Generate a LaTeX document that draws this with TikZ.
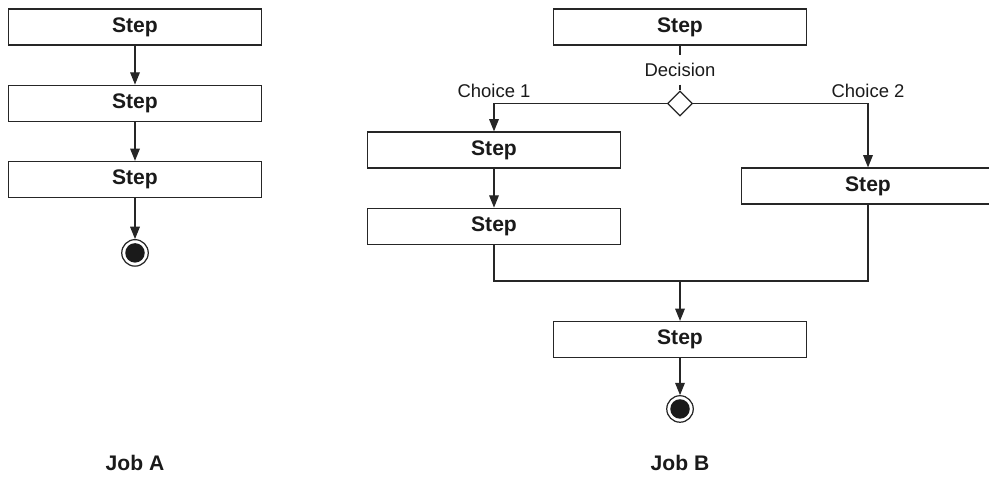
\documentclass[tikz,border=0pt]{standalone}
\usepackage{fontspec}
\setmainfont{Liberation Sans}
\usetikzlibrary{
  arrows.meta,
  shapes.geometric,
  positioning
}
\definecolor{jobLine}{HTML}{262626}
\definecolor{jobText}{HTML}{1A1A1A}
\tikzset{
  stepbox/.style={
    draw=jobLine, line width=0.7pt, minimum width=50.6mm, minimum height=7.2mm,
    inner sep=0pt, text=jobText, font=\fontsize{12}{14}\selectfont\bfseries
  },
  endstate/.style={
    circle, draw=jobLine, line width=0.7pt, minimum size=5.3mm, inner sep=0pt,
    path picture={\fill[jobText] (path picture bounding box.center) circle (1.95mm);}
  },
  decision/.style={diamond, draw=jobLine, line width=0.7pt, minimum size=5mm, inner sep=0pt, fill=white},
  flow/.style={-{Triangle[length=7pt, width=5.5pt]}, line width=0.7pt, jobLine},
  flowline/.style={line width=0.7pt, jobLine},
  tag/.style={font=\fontsize{10.5}{12}\selectfont, text=jobText, inner sep=3pt},
  joblabel/.style={font=\fontsize{12}{14}\selectfont\bfseries, text=jobText}
}

\begin{document}
\begin{tikzpicture}[x=0.02cm, y=-0.02cm, node distance=7.8mm]
  \useasboundingbox (0,0) rectangle (989,476);

  % Job A
  \node[stepbox] (a1) at (135,27) {Step};
  \node[stepbox, below=of a1] (a2) {Step};
  \node[stepbox, below=of a2] (a3) {Step};
  \node[endstate, below=8.2mm of a3] (aend) {};
  \draw[flow] (a1) -- (a2);
  \draw[flow] (a2) -- (a3);
  \draw[flow] (a3) -- (aend);
  \node[joblabel] (joba) at (135,463) {Job A};

  % Job B
  \node[stepbox] (b1) at (680,27) {Step};
  \node[decision] (dec) at (680,103.5) {};
  \node[tag, inner sep=4.2pt] (declabel) at (680,70) {Decision};
  \draw[flowline] (b1.south) -- (declabel.north);
  \draw[flowline] (declabel.south) -- (dec.north);

  \node[stepbox] (b2) at (494,150) {Step};
  \node[stepbox, below=of b2] (b3) {Step};
  \node[stepbox] (b4) at (868,186) {Step};
  \draw[flow] (dec.west) -| (b2.north)
    node[tag, pos=0.5, anchor=south] (choice1) {Choice 1};
  \draw[flow] (dec.east) -| (b4.north)
    node[tag, pos=0.5, anchor=south] (choice2) {Choice 2};
  \draw[flow] (b2) -- (b3);

  \coordinate (merge) at (680,281);
  \draw[flowline] (b3.south) |- (merge) -| (b4.south);
  \node[stepbox] (b5) at (680,339.5) {Step};
  \draw[flow] (merge) -- (b5);
  \node[endstate, below=7.4mm of b5] (bend) {};
  \draw[flow] (b5) -- (bend);
  \node[joblabel] (jobb) at (680,463) {Job B};
\end{tikzpicture}
\end{document}
